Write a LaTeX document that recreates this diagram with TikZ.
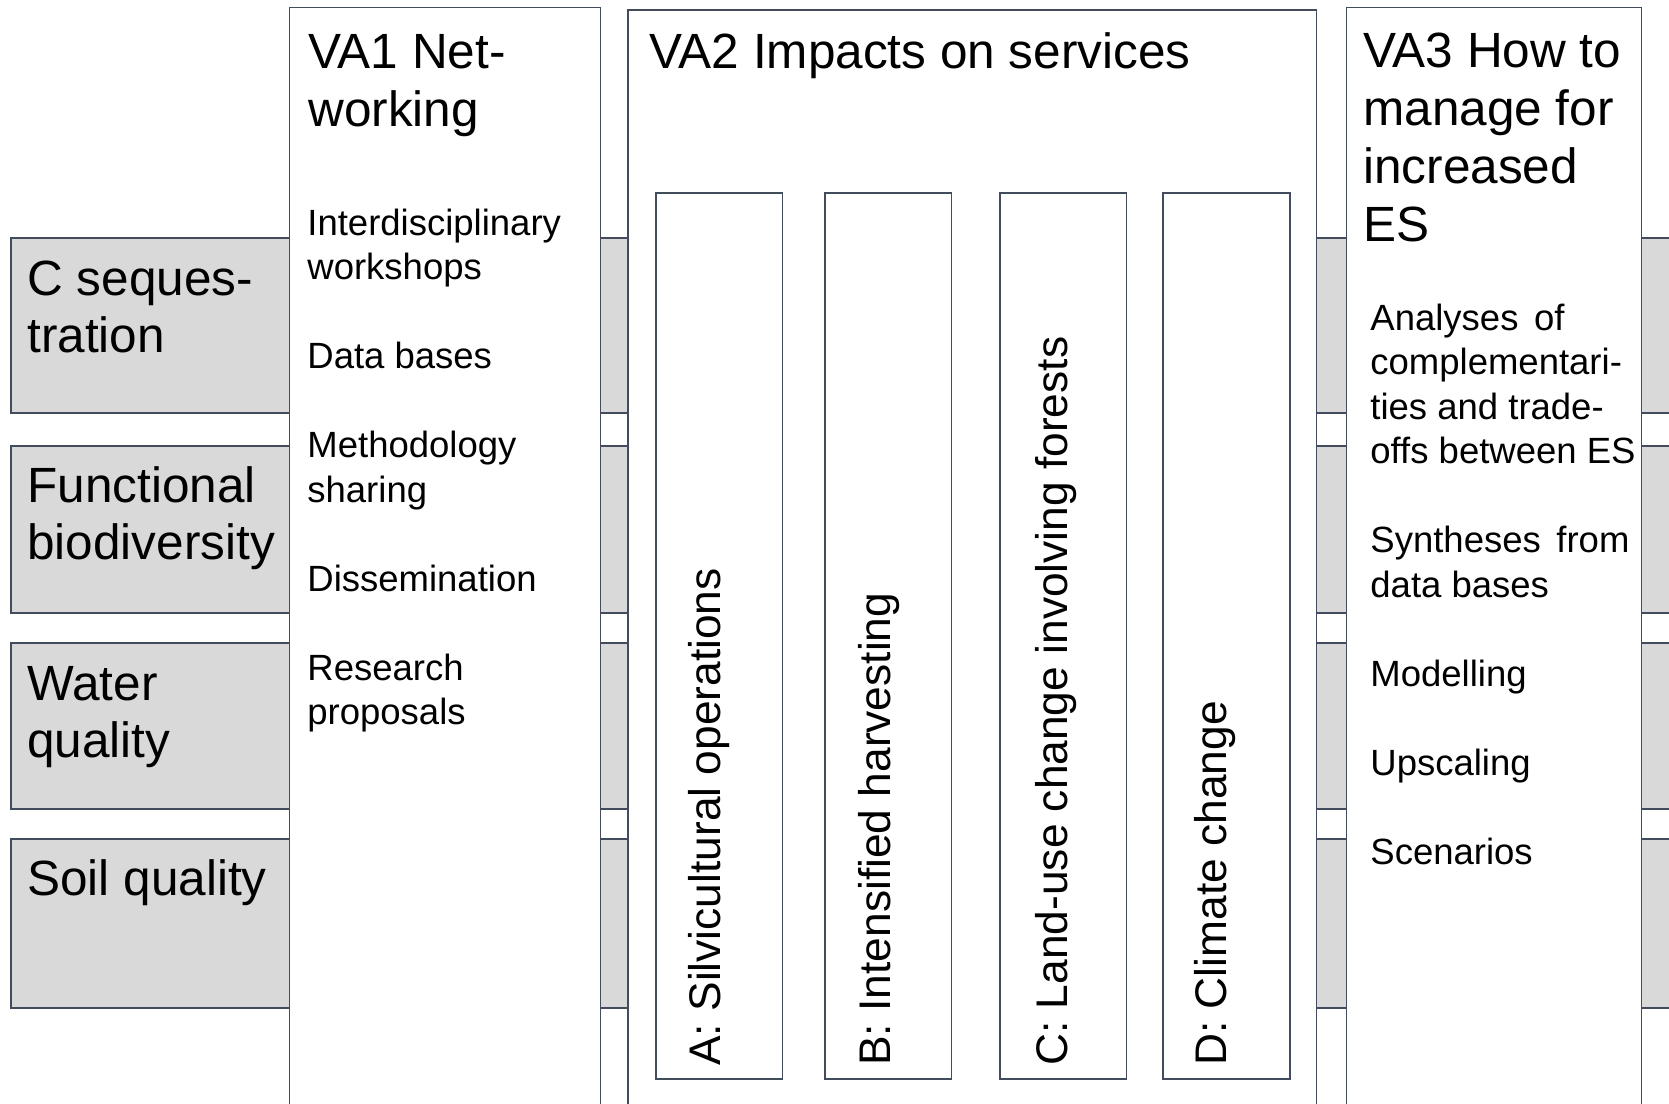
\documentclass[tikz,border=0pt]{standalone}
\usepackage{fontspec}
\setmainfont{Liberation Sans}
\definecolor{edge}{RGB}{66,76,92}
\definecolor{band}{RGB}{217,217,217}
\tikzset{
  bandbox/.style={draw=edge, fill=band, line width=0.9pt},
  colbox/.style={draw=edge, fill=white, line width=0.9pt},
  innerbox/.style={draw=edge, fill=white, line width=0.9pt},
  bigtxt/.style={anchor=base west, inner sep=0pt, align=left, font=\fontsize{24.75}{28.75}\selectfont},
  titletxt/.style={anchor=base west, inner sep=0pt, align=left, font=\fontsize{24.75}{29}\selectfont},
  smalltxt/.style={anchor=base west, inner sep=0pt, align=left, font=\fontsize{18.25}{22.25}\selectfont},
  rottxt/.style={anchor=base west, inner sep=0pt, rotate=90, font=\fontsize{22.15}{26}\selectfont}
}
\begin{document}
\begin{tikzpicture}[x=0.5pt,y=-0.5pt]
\useasboundingbox (0,0) rectangle (1669,1103);
\fill[white] (0,0) rectangle (1669,1103);
\clip (0,0) rectangle (1669,1103);
% bands
\draw[bandbox] (11,238) rectangle (1690,413);
\draw[bandbox] (11,446) rectangle (1690,613);
\draw[bandbox] (11,643) rectangle (1690,809);
\draw[bandbox] (11,839) rectangle (1690,1008);
% columns
\draw[colbox] (289.5,7.5) rectangle (600.5,1115);
\draw[colbox] (628,10) rectangle (1316.5,1115);
\draw[colbox] (1346.5,7.5) rectangle (1641.5,1115);
% inner boxes
\draw[innerbox] (656,193) rectangle (782.5,1079);
\draw[innerbox] (825,193) rectangle (951.5,1079);
\draw[innerbox] (1000,193) rectangle (1126.5,1079);
\draw[innerbox] (1163,193) rectangle (1290,1079);
% band labels (anchored at last line baseline)
\node[bigtxt] (b1) at (27,352.5) {C seques-\\tration};
\node[bigtxt] (b2) at (27,559.5) {Functional\\biodiversity};
\node[bigtxt] (b3) at (27,757.5) {Water\\quality};
\node[bigtxt] (b4) at (27,895) {Soil quality};
% titles
\node[titletxt] (t1) at (308,126) {VA1 Net-\\working};
\node[titletxt] (t2) at (649,68) {VA2 Impacts on services};
\node[titletxt] (t3) at (1363,241) {VA3 How to\\manage for\\increased\\ES};
% VA1 list
\node[smalltxt] (l1) at (307,279.5) {Interdisciplinary\\workshops};
\node[smalltxt] (l2) at (307,368.5) {Data bases};
\node[smalltxt] (l3) at (307,502) {Methodology\\sharing};
\node[smalltxt] (l4) at (307,591) {Dissemination};
\node[smalltxt] (l5) at (307,724.5) {Research\\proposals};
% VA3 list
\node[smalltxt] (r1) at (1370,463.5) {Analyses\hspace{0.15em} of\\complementari-\\ties and trade-\\offs between ES};
\node[smalltxt] (r2) at (1370,597) {Syntheses\hspace{0.15em} from\\data bases};
\node[smalltxt] (r3) at (1370,686) {Modelling};
\node[smalltxt] (r4) at (1370,775) {Upscaling};
\node[smalltxt] (r5) at (1370,864) {Scenarios};
% rotated
\node[rottxt] (ra) at (720.5,1066) {A: Silvicultural operations};
\node[rottxt] (rb) at (890,1066) {B: Intensified harvesting};
\node[rottxt] (rc) at (1067,1066) {C: Land-use change involving forests};
\node[rottxt] (rd) at (1226,1066) {D: Climate change};
\end{tikzpicture}
\end{document}
